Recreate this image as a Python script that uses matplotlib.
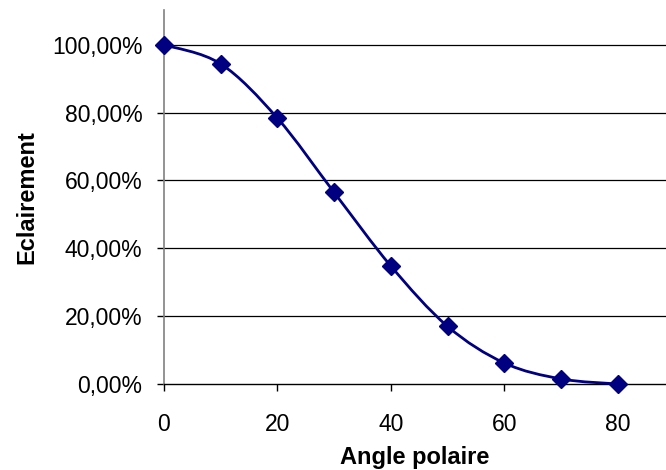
import matplotlib.pyplot as plt
from matplotlib.path import Path
from matplotlib.patches import PathPatch
from matplotlib.ticker import FuncFormatter

angles = [0, 10, 20, 30, 40, 50, 60, 70, 80]
eclairement = [1.0, 0.944, 0.784, 0.565, 0.348, 0.170, 0.062, 0.015, 0.0]

x_ticks = [0, 20, 40, 60, 80]
y_ticks = [0.0, 0.2, 0.4, 0.6, 0.8, 1.0]

COLOR = '#000080'


def smooth_path(xs, ys):
    # Excel-style smoothed line: Catmull-Rom segments as cubic Bezier curves
    pts = list(zip(xs, ys))
    verts = [pts[0]]
    codes = [Path.MOVETO]
    n = len(pts)
    for i in range(n - 1):
        p0 = pts[i - 1] if i > 0 else pts[i]
        p1 = pts[i]
        p2 = pts[i + 1]
        p3 = pts[i + 2] if i + 2 < n else pts[i + 1]
        c1 = (p1[0] + (p2[0] - p0[0]) / 6, p1[1] + (p2[1] - p0[1]) / 6)
        c2 = (p2[0] - (p3[0] - p1[0]) / 6, p2[1] - (p3[1] - p1[1]) / 6)
        verts += [c1, c2, p2]
        codes += [Path.CURVE4] * 3
    return Path(verts, codes)


plt.rcParams['font.family'] = ['Liberation Sans', 'DejaVu Sans']

fig = plt.figure(figsize=(6.66, 4.70), dpi=100)
ax = fig.add_axes([0.246, 0.183, 0.754, 0.796])

ax.set_xlim(0, 88.5)
ax.set_ylim(0, 1.103)

for y in y_ticks[1:]:
    ax.axhline(y, color='black', lw=0.9, zorder=1)

ax.add_patch(PathPatch(smooth_path(angles, eclairement), fill=False,
                       edgecolor=COLOR, lw=2, zorder=3, clip_on=False))
ax.plot(angles, eclairement, linestyle='none', marker='D', markersize=9,
        color=COLOR, zorder=4, clip_on=False)

ax.set_xticks(x_ticks)
ax.set_yticks(y_ticks)
ax.yaxis.set_major_formatter(FuncFormatter(lambda v, p: f'{v*100:.2f}%'.replace('.', ',')))

for side in ['top', 'right']:
    ax.spines[side].set_visible(False)
ax.spines['left'].set_color('#808080')
ax.spines['bottom'].set_color('black')
ax.spines['left'].set_linewidth(1.2)
ax.spines['bottom'].set_linewidth(1)

ax.tick_params(axis='both', direction='out', length=5, width=1, labelsize=16.5, color='black')
ax.tick_params(axis='y', pad=10.5)
ax.tick_params(axis='x', pad=16)

ax.set_xlabel('Angle polaire', fontsize=17, fontweight='bold', labelpad=7)
ax.set_ylabel('Eclairement', fontsize=17, fontweight='bold', labelpad=10)

fig.savefig('out.png', dpi=100)
